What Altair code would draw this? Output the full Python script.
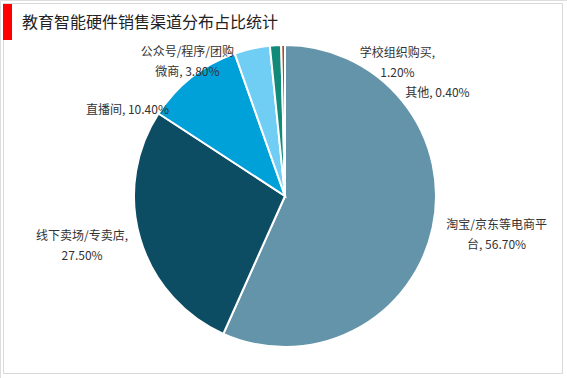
import altair as alt
import pandas as pd

channels = ["淘宝/京东等电商平台", "线下卖场/专卖店", "直播间", "公众号/程序/团购微商", "学校组织购买", "其他"]
shares = [56.7, 27.5, 10.4, 3.8, 1.2, 0.4]
labels = ["淘宝/京东等电商平\n台, 56.70%", "线下卖场/专卖店,\n27.50%", "直播间, 10.40%",
          "公众号/程序/团购\n微商, 3.80%", "学校组织购买,\n1.20%", "其他, 0.40%"]
colors = ["#6394a9", "#0c4d63", "#00a0d8", "#70cdf4", "#128a7a", "#a0522d"]
title_text = "教育智能硬件销售渠道分布占比统计"

df = pd.DataFrame({"channel": channels, "share": shares, "label": labels,
                   "idx": list(range(len(channels)))})

CX, CY, R = 285, 196, 151
FONT = "Noto Sans CJK SC"

base = alt.Chart(df)

pie = base.mark_arc(radius=R, stroke="white", strokeWidth=2).encode(
    theta=alt.Theta("share:Q", stack=True),
    order=alt.Order("idx:Q"),
    color=alt.Color("channel:N", scale=alt.Scale(domain=channels, range=colors), legend=None),
    x=alt.value(CX), y=alt.value(CY),
)

# label offsets (style) relative to the mid-angle point at radius 200
offsets = {
    "淘宝/京东等电商平台": (16, -13),
    "线下卖场/专卖店": (-11, -16),
    "直播间": (-34, 71),
    "公众号/程序/团购微商": (-54, 51),
    "学校组织购买": (125, 57),
    "其他": (155, 97),
}

label_layers = []
for ch in channels:
    dx, dy = offsets[ch]
    lyr = base.transform_window(
        cum="sum(share)", sort=[alt.SortField("idx")], frame=[None, 0]
    ).transform_calculate(
        mid="datum.cum - datum.share / 2"
    ).transform_filter(
        alt.datum.channel == ch
    ).mark_text(
        radius=200, dx=dx, dy=dy, font=FONT, fontSize=12, color="#333333",
        align="center", baseline="middle", lineBreak="\n", lineHeight=20,
    ).encode(
        theta=alt.Theta("mid:Q", stack=None, scale=alt.Scale(domain=[0, 100])),
        text="label:N",
        x=alt.value(CX), y=alt.value(CY),
    )
    label_layers.append(lyr)

one = alt.Chart(pd.DataFrame({"t": [title_text]}))
border = one.mark_rect(fill=None, stroke="#d9d9d9", strokeWidth=1).encode(
    x=alt.value(3.5), x2=alt.value(562.5), y=alt.value(3.5), y2=alt.value(373.5))
redbar = one.mark_rect(color="#ff0000").encode(
    x=alt.value(3), x2=alt.value(12), y=alt.value(4), y2=alt.value(40))
title = one.mark_text(font=FONT, fontSize=16, color="#222222", align="left", baseline="middle").encode(
    x=alt.value(22), y=alt.value(23), text="t:N")

chart = alt.layer(border, redbar, title, pie, *label_layers).properties(
    width=567, height=378,
    autosize=alt.AutoSizeParams(type="none"),
    padding=0,
).configure_view(stroke=None).configure(background="white")

chart.save("out.html", embed_options={"renderer": "svg", "actions": False})
